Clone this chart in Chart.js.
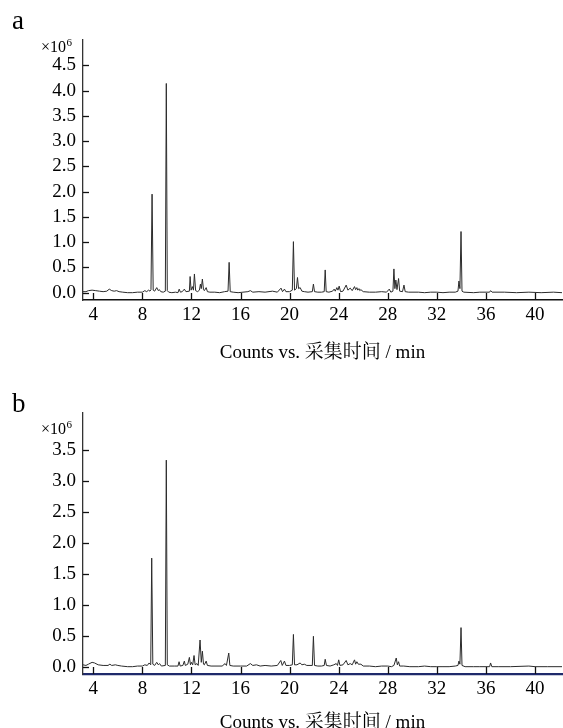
<!DOCTYPE html>
<html>
<head>
<meta charset="utf-8">
<title>Chromatograms</title>
<script src="https://cdn.jsdelivr.net/npm/chart.js@4.4.1/dist/chart.umd.min.js"></script>
<style>
  html, body { margin: 0; padding: 0; background: #fff; overflow: hidden; }
  body { width: 563px; height: 728px; position: relative; }
  canvas { position: absolute; left: 0; }
  #chartA { top: 0; }
  #chartB { top: 370px; }
</style>
</head>
<body>
<canvas id="chartA" width="563" height="370"></canvas>
<canvas id="chartB" width="563" height="370"></canvas>
<script>
// ===== Adatok (counts, x10^6) =====
const xTicks = [4, 8, 12, 16, 20, 24, 28, 32, 36, 40];
const yTicksA = [0, 0.5, 1, 1.5, 2, 2.5, 3, 3.5, 4, 4.5];
const yTicksB = [0, 0.5, 1, 1.5, 2, 2.5, 3, 3.5];
const axisTitle = 'Counts vs. 采集时间 / min';

const timeA = [3.16, 3.4, 3.6, 3.9, 4.2, 4.5, 4.8, 5.1, 5.3, 5.5, 5.7, 5.9, 6.1, 6.4, 6.8, 7.2, 7.6, 8.0, 8.2, 8.35,
  8.5, 8.62, 8.7, 8.79, 8.88, 9.0, 9.17, 9.3, 9.38, 9.5, 9.7, 9.87, 9.95, 10.03, 10.15, 10.4, 10.7, 10.9, 11.0, 11.1,
  11.25, 11.42, 11.55, 11.83, 11.89, 11.97, 12.07, 12.16, 12.24, 12.34, 12.5, 12.65, 12.73, 12.8, 12.89, 12.98, 13.05, 13.2, 13.3, 13.5,
  13.9, 14.3, 14.7, 14.98, 15.07, 15.16, 15.4, 15.8, 16.2, 16.6, 16.8, 17.0, 17.5, 18.0, 18.6, 19.0, 19.3, 19.42, 19.58, 19.7,
  20.0, 20.22, 20.31, 20.4, 20.55, 20.64, 20.73, 20.86, 21.0, 21.2, 21.5, 21.85, 21.94, 22.03, 22.3, 22.6, 22.82, 22.9, 22.98, 23.2,
  23.5, 23.63, 23.72, 23.85, 23.94, 24.04, 24.15, 24.35, 24.61, 24.75, 24.94, 25.1, 25.29, 25.38, 25.48, 25.55, 25.65, 25.72, 25.81, 26.0,
  26.5, 27.0, 27.5, 27.9, 28.12, 28.25, 28.42, 28.5, 28.58, 28.66, 28.75, 28.88, 28.97, 29.2, 29.32, 29.42, 29.7, 30.5, 31.0, 31.5,
  32.0, 32.5, 33.0, 33.5, 33.72, 33.8, 33.88, 33.97, 34.05, 34.2, 35.0, 35.5, 36.3, 36.38, 36.5, 37.5, 38.5, 39.5, 40.5, 41.5, 42.2];
const countsA = [0.02, 0.02, 0.04, 0.05, 0.04, 0.03, 0.02, 0.03, 0.07, 0.04, 0.03, 0.04, 0.02, 0.01, 0.0, 0.0, 0.01, 0.01, 0.04, 0.02,
  0.05, 0.03, 0.06, 1.95, 0.05, 0.03, 0.10, 0.04, 0.06, 0.02, 0.01, 0.03, 4.14, 0.04, 0.01, 0.0, 0.01, 0.0, 0.07, 0.01,
  0.02, 0.07, 0.02, 0.03, 0.32, 0.05, 0.12, 0.05, 0.37, 0.04, 0.02, 0.05, 0.17, 0.08, 0.27, 0.06, 0.04, 0.10, 0.02, 0.01,
  0.01, 0.0, 0.02, 0.03, 0.60, 0.02, 0.01, 0.0, 0.01, 0.02, 0.04, 0.01, 0.02, 0.01, 0.03, 0.01, 0.09, 0.02, 0.07, 0.02,
  0.02, 0.05, 1.01, 0.05, 0.08, 0.30, 0.08, 0.10, 0.03, 0.02, 0.01, 0.02, 0.17, 0.02, 0.01, 0.01, 0.02, 0.45, 0.02, 0.01,
  0.03, 0.07, 0.03, 0.10, 0.05, 0.13, 0.02, 0.03, 0.15, 0.05, 0.09, 0.04, 0.12, 0.06, 0.10, 0.05, 0.08, 0.04, 0.06, 0.02,
  0.01, 0.01, 0.02, 0.01, 0.07, 0.01, 0.03, 0.47, 0.08, 0.25, 0.06, 0.28, 0.03, 0.02, 0.15, 0.02, 0.01, 0.01, 0.0, 0.01,
  0.01, 0.0, 0.01, 0.01, 0.03, 0.23, 0.08, 1.21, 0.03, 0.01, 0.0, 0.01, 0.01, 0.04, 0.01, 0.01, 0.0, 0.01, 0.0, 0.01, 0.0];

const timeB = [3.16, 3.4, 3.6, 3.9, 4.1, 4.4, 4.8, 5.2, 5.35, 5.5, 5.8, 6.0, 6.3, 6.8, 7.2, 7.6, 8.0, 8.2, 8.4, 8.55,
  8.68, 8.76, 8.85, 9.0, 9.17, 9.3, 9.4, 9.55, 9.87, 9.95, 10.03, 10.2, 10.6, 10.9, 10.99, 11.08, 11.3, 11.42, 11.5, 11.7,
  11.83, 11.92, 12.0, 12.1, 12.21, 12.3, 12.45, 12.55, 12.7, 12.8, 12.89, 12.98, 13.05, 13.2, 13.3, 13.6, 14.0, 14.5, 14.74, 14.85,
  15.04, 15.13, 15.4, 16.0, 16.5, 16.8, 17.0, 17.3, 17.6, 18.0, 18.5, 19.0, 19.28, 19.4, 19.58, 19.7, 20.0, 20.22, 20.31, 20.4,
  20.6, 20.86, 21.0, 21.2, 21.4, 21.85, 21.94, 22.03, 22.3, 22.6, 22.82, 22.9, 23.0, 23.3, 23.6, 23.8, 23.9, 24.0, 24.1, 24.35,
  24.61, 24.75, 24.94, 25.1, 25.29, 25.38, 25.48, 25.6, 25.81, 26.0, 26.5, 27.0, 27.5, 28.0, 28.3, 28.5, 28.69, 28.78, 28.88, 28.97,
  29.3, 29.8, 30.5, 31.0, 31.5, 32.0, 32.5, 33.0, 33.5, 33.72, 33.8, 33.88, 33.97, 34.05, 34.3, 35.0, 35.5, 36.3, 36.38, 36.48,
  37.0, 38.0, 39.5, 40.0, 41.0, 42.2];
const countsB = [0.04, 0.03, 0.05, 0.08, 0.07, 0.04, 0.03, 0.03, 0.05, 0.03, 0.04, 0.03, 0.02, 0.01, 0.01, 0.02, 0.02, 0.04, 0.03, 0.07,
  0.04, 1.76, 0.05, 0.03, 0.08, 0.04, 0.06, 0.02, 0.03, 3.34, 0.04, 0.02, 0.02, 0.02, 0.09, 0.02, 0.03, 0.10, 0.03, 0.05,
  0.16, 0.04, 0.08, 0.04, 0.19, 0.04, 0.06, 0.03, 0.44, 0.08, 0.26, 0.05, 0.04, 0.10, 0.03, 0.02, 0.02, 0.02, 0.06, 0.03,
  0.23, 0.03, 0.02, 0.02, 0.02, 0.06, 0.03, 0.04, 0.02, 0.03, 0.02, 0.03, 0.11, 0.03, 0.10, 0.03, 0.03, 0.04, 0.53, 0.04,
  0.04, 0.07, 0.04, 0.05, 0.03, 0.03, 0.50, 0.03, 0.02, 0.02, 0.03, 0.13, 0.03, 0.02, 0.04, 0.06, 0.03, 0.12, 0.03, 0.04,
  0.11, 0.04, 0.06, 0.04, 0.12, 0.05, 0.09, 0.05, 0.05, 0.02, 0.02, 0.01, 0.02, 0.02, 0.01, 0.03, 0.15, 0.04, 0.09, 0.02,
  0.02, 0.01, 0.01, 0.02, 0.01, 0.01, 0.01, 0.01, 0.02, 0.03, 0.10, 0.05, 0.64, 0.03, 0.01, 0.01, 0.01, 0.01, 0.07, 0.01,
  0.01, 0.01, 0.02, 0.01, 0.01, 0.01];

const FONT = "'Liberation Serif', 'Times New Roman', 'Noto Serif CJK SC', 'Noto Sans CJK SC', serif";

// ===== Befelé mutató tickek, panel betű, x10^6 felirat =====
const panelDecor = {
  id: 'panelDecor',
  afterDraw(chart, args, opts) {
    const { ctx, chartArea, scales } = chart;
    ctx.save();
    ctx.strokeStyle = '#111';
    ctx.lineWidth = 1.3;
    scales.x.ticks.forEach(t => {
      const px = Math.round(scales.x.getPixelForValue(t.value)) + 0.5;
      ctx.beginPath();
      ctx.moveTo(px, chartArea.bottom);
      ctx.lineTo(px, chartArea.bottom - 7);
      ctx.stroke();
    });
    scales.y.ticks.forEach(t => {
      const py = Math.round(scales.y.getPixelForValue(t.value)) + 0.5;
      ctx.beginPath();
      ctx.moveTo(chartArea.left, py);
      ctx.lineTo(chartArea.left + 6, py);
      ctx.stroke();
    });

    ctx.fillStyle = '#000';
    ctx.textBaseline = 'alphabetic';
    ctx.textAlign = 'left';
    ctx.font = `27px ${FONT}`;
    ctx.fillText(opts.letter, 12, opts.letterY);

    ctx.font = `16px ${FONT}`;
    ctx.fillText('×10', 41, opts.expY);
    const w = ctx.measureText('×10').width;
    ctx.font = `11px ${FONT}`;
    ctx.fillText('6', 41 + w + 0.5, opts.expY - 6);
    ctx.restore();
  }
};

const createChromatogram = (canvasId, times, counts, yRange, yTicks, cfg) => {
  const ctx = document.getElementById(canvasId);
  if (!ctx) return;
  new Chart(ctx, {
    type: 'line',
    data: {
      datasets: [{
        data: times.map((t, i) => ({ x: t, y: counts[i] })),
        borderColor: '#2b2b2b',
        borderWidth: 1,
        pointRadius: 0,
        tension: 0,
        fill: false
      }]
    },
    options: {
      responsive: false,
      animation: false,
      events: [],
      layout: { padding: { left: 0, right: 1, top: cfg.top, bottom: 0 } },
      plugins: {
        legend: { display: false },
        tooltip: { enabled: false },
        panelDecor: { letter: cfg.letter, letterY: cfg.letterY, expY: cfg.expY }
      },
      scales: {
        x: {
          type: 'linear',
          min: 3.16,
          max: 42.2,
          afterBuildTicks: s => { s.ticks = xTicks.map(v => ({ value: v })); },
          afterFit: s => { s.height = cfg.xHeight; },
          grid: { display: false, drawTicks: false },
          border: { display: true, color: cfg.xBorder, width: cfg.xBorderWidth },
          ticks: {
            color: '#000',
            font: { family: FONT, size: 19 },
            padding: 4,
            maxRotation: 0,
            autoSkip: false,
            callback: v => String(v)
          },
          title: {
            display: true,
            text: axisTitle,
            color: '#000',
            font: { family: FONT, size: 19 },
            padding: { top: 0, bottom: 6 }
          }
        },
        y: {
          min: yRange[0],
          max: yRange[1],
          afterBuildTicks: s => { s.ticks = yTicks.map(v => ({ value: v })); },
          afterFit: s => { s.width = 83; },
          grid: { display: false, drawTicks: false },
          border: { display: true, color: '#333', width: 1.3 },
          ticks: {
            color: '#000',
            font: { family: FONT, size: 19 },
            padding: 7,
            callback: v => v.toFixed(1)
          }
        }
      }
    },
    plugins: [panelDecor]
  });
};

createChromatogram('chartA', timeA, countsA, [-0.145, 5.0], yTicksA, {
  top: 40, xHeight: 70, xBorder: '#111', xBorderWidth: 1.5, letter: 'a', letterY: 29, expY: 52
});
createChromatogram('chartB', timeB, countsB, [-0.108, 4.1], yTicksB, {
  top: 43, xHeight: 66, xBorder: '#1f2a6b', xBorderWidth: 2.2, letter: 'b', letterY: 42, expY: 64
});
</script>
</body>
</html>
